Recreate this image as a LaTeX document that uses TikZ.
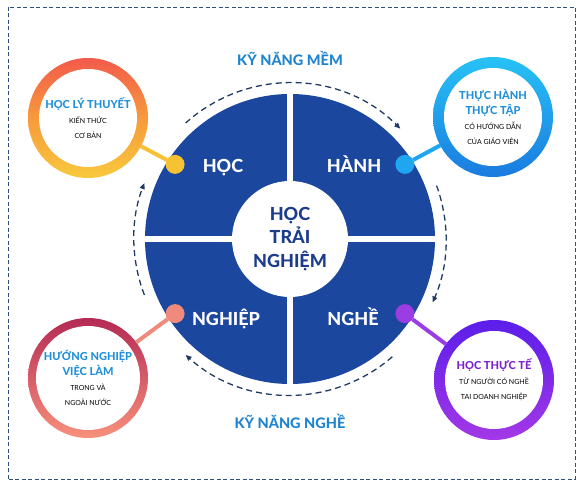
\documentclass[tikz,border=0pt]{standalone}
\usepackage{fontspec}
\setmainfont{Lato}[BoldFont={Lato Heavy}]
\usepackage{xcolor}
\usetikzlibrary{arrows.meta, positioning}

\definecolor{discblue}{HTML}{1B479F}
\definecolor{corenavy}{HTML}{1C3C8C}
\definecolor{skillblue}{HTML}{1E84D0}
\definecolor{titleblue}{HTML}{2190D8}
\definecolor{titlepurple}{HTML}{7B22D0}
\definecolor{flownavy}{HTML}{1F3B63}
\definecolor{framenavy}{HTML}{2E4F80}
\definecolor{hocTop}{HTML}{F35A4B}
\definecolor{hocMid}{HTML}{F79A3C}
\definecolor{hocBot}{HTML}{F8C93C}
\definecolor{hanhTop}{HTML}{27C2F5}
\definecolor{hanhBot}{HTML}{1A7BE0}
\definecolor{nghiepTop}{HTML}{B42A55}
\definecolor{nghiepBot}{HTML}{F7907C}
\definecolor{ngheTop}{HTML}{5B1EEA}
\definecolor{ngheBot}{HTML}{A338E6}
\definecolor{hocDot}{HTML}{F6C233}
\definecolor{hanhDot}{HTML}{1EA6F0}
\definecolor{nghiepDot}{HTML}{F08A7C}
\definecolor{ngheDot}{HTML}{9B3DE3}

\begin{document}
\begin{tikzpicture}[x=1pt, y=1pt,
	ring/.style={circle, minimum size=120pt, inner sep=0pt, outer sep=0pt},
	hole/.style={circle, fill=white, minimum size=98pt, inner sep=0pt, align=center, text=black, font=\fontsize{7}{15}\selectfont},
	dotnode/.style={circle, minimum size=19pt, inner sep=0pt, outer sep=0pt},
	link/.style={line width=4pt},
	quarter/.style={text=white, anchor=base, font=\bfseries\fontsize{18}{20}\selectfont},
	skill/.style={text=skillblue, anchor=base, font=\bfseries\fontsize{14.5}{16}\selectfont},
	flow/.style={flownavy, line width=1.3pt, dash pattern=on 6pt off 4pt, -{Triangle[length=6pt, width=5pt]}}
	]
	\useasboundingbox (0,0) rectangle (579,484);
	\draw[framenavy, line width=0.8pt, dash pattern=on 4pt off 2.5pt] (8,5) rectangle (575,477);

	\coordinate (C) at (290,245);
	\node[circle, fill=discblue, minimum size=290pt, inner sep=0pt, outer sep=0pt] (disc) at (C) {};
	\draw[white, line width=6pt] (disc.north) -- (disc.south);
	\draw[white, line width=6pt] (disc.west) -- (disc.east);
	\node[circle, fill=white, minimum size=116pt, inner sep=0pt, align=center, text=corenavy,
		font=\bfseries\fontsize{18}{23.5}\selectfont] (core) at (C) {HỌC\\TRẢI\\NGHIỆM};

	\node[quarter] (lblHoc) at (223,311.5) {HỌC};
	\node[quarter] (lblHanh) at (354,311.5) {HÀNH};
	\node[quarter] (lblNghiep) at (226,158.5) {NGHIỆP};
	\node[quarter] (lblNghe) at (353,158.5) {NGHỀ};

	\draw[flow] ([shift={(132:156)}]C) arc[start angle=132, end angle=45, radius=156];
	\draw[flow] ([shift={(20:156)}]C) arc[start angle=20, end angle=-24, radius=156];
	\draw[flow] ([shift={(-49:156)}]C) arc[start angle=-49, end angle=-132, radius=156];
	\draw[flow] ([shift={(201:156)}]C) arc[start angle=201, end angle=159, radius=156];

	\node[skill] (softSkill) at (290,418) {KỸ NĂNG MỀM};
	\node[skill] (jobSkill) at (290,55) {KỸ NĂNG NGHỀ};

	\node[ring, top color=hocTop, bottom color=hocBot, middle color=hocMid] (ringHoc) at (88,366) {};
	\node[ring, top color=hanhTop, bottom color=hanhBot] (ringHanh) at (493,367) {};
	\node[ring, top color=nghiepTop, bottom color=nghiepBot] (ringNghiep) at (88,106) {};
	\node[ring, top color=ngheTop, bottom color=ngheBot] (ringNghe) at (494,104) {};

	\node[hole] (holeHoc) at (ringHoc) {\textcolor{titleblue}{\bfseries\fontsize{11}{15}\selectfont HỌC LÝ THUYẾT}\\KIẾN THỨC\\CƠ BẢN};
	\node[hole] (holeHanh) at (ringHanh) {\textcolor{titleblue}{\bfseries\fontsize{11}{15}\selectfont THỰC HÀNH}\\\textcolor{titleblue}{\bfseries\fontsize{11}{15}\selectfont THỰC TẬP}\\CÓ HƯỚNG DẪN\\CỦA GIÁO VIÊN};
	\node[hole] (holeNghiep) at (ringNghiep) {\textcolor{titleblue}{\bfseries\fontsize{11}{15}\selectfont HƯỚNG NGHIỆP}\\\textcolor{titleblue}{\bfseries\fontsize{11}{15}\selectfont VIỆC LÀM}\\TRONG VÀ\\NGOÀI NƯỚC};
	\node[hole] (holeNghe) at (ringNghe) {\textcolor{titlepurple}{\bfseries\fontsize{11}{15}\selectfont HỌC THỰC TẾ}\\TỪ NGƯỜI CÓ NGHỀ\\TAI DOANH NGHIỆP};

	\node[dotnode, fill=hocDot] (dotHoc) at ([shift={(147:137)}]C) {};
	\node[dotnode, fill=hanhDot] (dotHanh) at ([shift={(33:137)}]C) {};
	\node[dotnode, fill=nghiepDot] (dotNghiep) at ([shift={(213:137)}]C) {};
	\node[dotnode, fill=ngheDot] (dotNghe) at ([shift={(-33:137)}]C) {};

	\draw[link, hocDot] (dotHoc) -- (ringHoc);
	\draw[link, hanhDot] (dotHanh) -- (ringHanh);
	\draw[link, nghiepDot] (dotNghiep) -- (ringNghiep);
	\draw[link, ngheDot] (dotNghe) -- (ringNghe);
\end{tikzpicture}
\end{document}
